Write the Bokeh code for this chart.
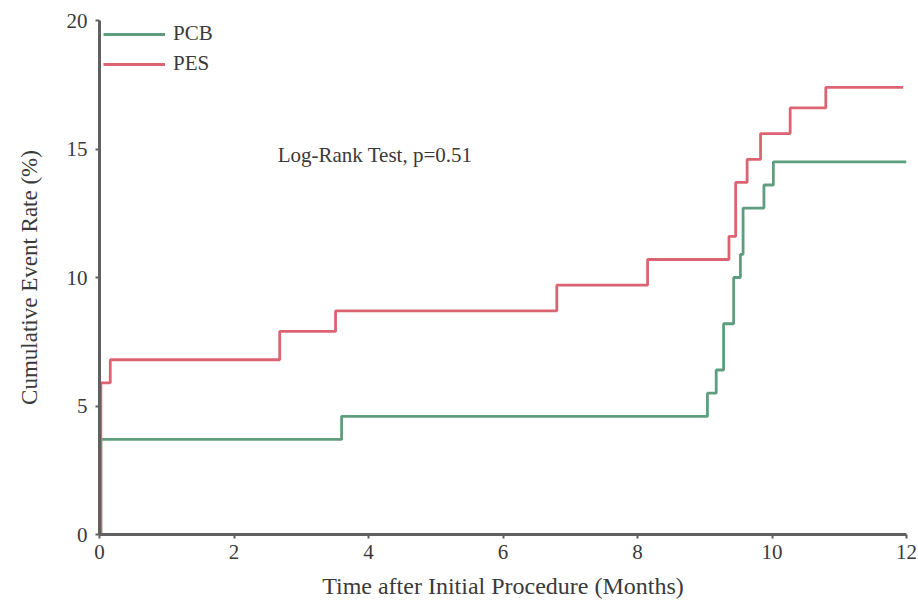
from bokeh.plotting import figure
from bokeh.models import Range1d, Legend, LegendItem, FixedTicker, Label
from bokeh.embed import file_html
from bokeh.resources import INLINE

# Kaplan-Meier style cumulative event rates (step after each event time)
pcb_months = [0, 0.02, 3.6, 9.04, 9.17, 9.28, 9.43, 9.53, 9.57, 9.88, 10.02, 12.0]
pcb_rate = [0, 3.7, 4.6, 5.5, 6.4, 8.2, 10.0, 10.9, 12.7, 13.6, 14.5, 14.5]

pes_months = [0, 0.02, 0.16, 2.68, 3.51, 6.8, 8.15, 9.36, 9.46, 9.63, 9.83, 10.27, 10.8, 11.95]
pes_rate = [0, 5.9, 6.8, 7.9, 8.7, 9.7, 10.7, 11.6, 13.7, 14.6, 15.6, 16.6, 17.4, 17.4]

x_ticks = [0, 2, 4, 6, 8, 10, 12]
y_ticks = [0, 5, 10, 15, 20]

FONT = "Liberation Serif"
TEXT = "#3a3a3a"
GREEN = "#5e9e7e"
RED = "#dc6472"

p = figure(width=918, height=603, output_backend="svg", toolbar_location=None,
           x_range=Range1d(0, 12), y_range=Range1d(0, 20),
           min_border_left=99, min_border_right=12, min_border_top=20, min_border_bottom=69)

p.outline_line_color = None
p.xgrid.grid_line_color = None
p.ygrid.grid_line_color = None
p.background_fill_color = "white"
p.border_fill_color = "white"

for ax in (p.xaxis[0], p.yaxis[0]):
    ax.axis_line_color = "#606060"
    ax.axis_line_width = 3
    ax.major_tick_line_color = "#606060"
    ax.major_tick_line_width = 2
    ax.major_tick_in = 0
    ax.major_tick_out = 4
    ax.minor_tick_line_color = None
    ax.major_label_text_font = FONT
    ax.major_label_text_font_size = "21px"
    ax.major_label_text_color = TEXT
    ax.axis_label_text_font = FONT
    ax.axis_label_text_font_style = "normal"
    ax.axis_label_text_color = TEXT

p.xaxis[0].ticker = FixedTicker(ticks=x_ticks)
p.yaxis[0].ticker = FixedTicker(ticks=y_ticks)
p.xaxis[0].axis_label = "Time after Initial Procedure (Months)"
p.yaxis[0].axis_label = "Cumulative Event Rate (%)"
p.xaxis[0].axis_label_text_font_size = "24px"
p.yaxis[0].axis_label_text_font_size = "23px"
p.xaxis[0].major_label_standoff = 6
p.xaxis[0].axis_label_standoff = 11
p.yaxis[0].major_label_standoff = 8
p.yaxis[0].axis_label_standoff = 22

r_pcb = p.step(pcb_months, pcb_rate, mode="after", line_color=GREEN, line_width=2.8)
r_pes = p.step(pes_months, pes_rate, mode="after", line_color=RED, line_width=2.8)

legend = Legend(items=[LegendItem(label="PCB", renderers=[r_pcb]),
                       LegendItem(label="PES", renderers=[r_pes])],
                location=(4, 458), border_line_color=None, background_fill_alpha=0,
                padding=0, margin=0, spacing=5, glyph_width=62, glyph_height=24,
                label_height=24, label_standoff=8,
                label_text_font=FONT, label_text_font_size="21px", label_text_color=TEXT)
p.add_layout(legend)

p.add_layout(Label(x=2.65, y=14.75, text="Log-Rank Test, p=0.51", text_font=FONT,
                   text_font_size="21px", text_color=TEXT, text_baseline="middle"))

open("out.html", "w").write(file_html(p, INLINE))
